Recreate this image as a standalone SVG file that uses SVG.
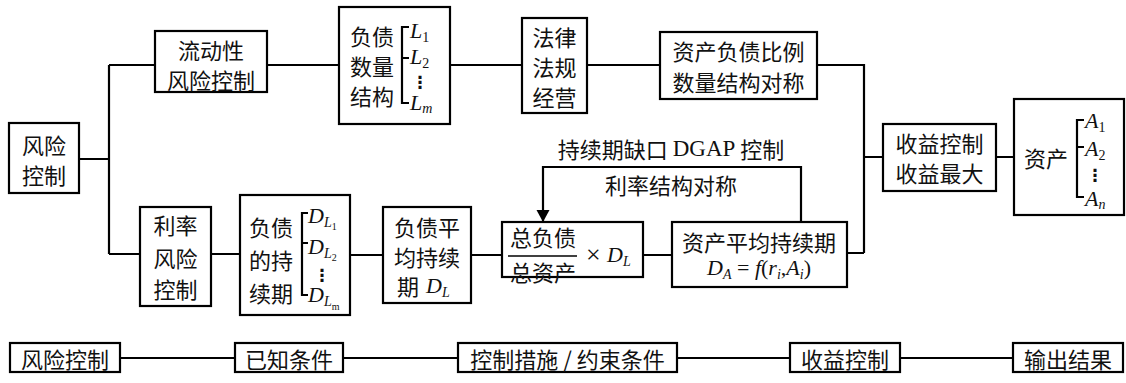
<svg xmlns="http://www.w3.org/2000/svg" width="1126" height="383" viewBox="0 0 1126 383">
<style>
.box{fill:#fff;stroke:#000;stroke-width:2.2}
.ln{fill:none;stroke:#000;stroke-width:2.2}
.cn{font-family:"Noto Sans CJK SC","Noto Sans CJK JP",sans-serif;font-size:22px;fill:#111;text-anchor:middle;dominant-baseline:central}
.it{font-family:"Liberation Serif",serif;font-style:italic;font-size:22px;fill:#111}
.sub{font-size:14px}
.sn{font-size:14px;font-style:normal}
.ss{font-size:10px;font-style:normal}
.dots{font-family:"DejaVu Sans",sans-serif;font-size:17px;font-weight:bold;fill:#111;text-anchor:middle}
.sr{font-family:"Liberation Serif",serif;font-size:22px;fill:#111}
</style>
<defs>
<marker id="ah" markerUnits="userSpaceOnUse" markerWidth="14" markerHeight="14" refX="12" refY="6.5" orient="auto">
<path d="M0,0 L12,6.5 L0,13 z" fill="#000"/>
</marker>
</defs>
<rect width="1126" height="383" fill="#fff"/>

<g id="connectors">
<path class="ln" d="M79,159 H109 M109,65 V254 M109,65 H155 M109,254 H140"/>
<path class="ln" d="M267,65 H339 M450,65 H522 M587,65 H660"/>
<path class="ln" d="M817,65 H864 V253 M847,253 H864 M864,157 H883 M996,157 H1014"/>
<path class="ln" d="M211,254 H240 M350,255 H383 M471,255 H502 M643,255 H672"/>
<path class="ln" d="M801,222 V167 H543 V222" marker-end="url(#ah)"/>
<path class="ln" d="M120,358 H235 M343,358 H458 M677,358 H790 M900,358 H1013"/>
</g>

<g id="feedback-labels">
<text class="cn" x="671" y="148">持续期缺口 <tspan class="sr" style="font-size:23px">DGAP</tspan> 控制</text>
<text class="cn" x="671" y="184">利率结构对称</text>
</g>

<g id="risk-control">
<rect class="box" x="9" y="123" width="70" height="70"/>
<text class="cn" x="44" y="144">风险</text>
<text class="cn" x="44" y="174">控制</text>
</g>

<g id="liquidity-risk">
<rect class="box" x="155" y="31" width="112" height="61"/>
<text class="cn" x="211" y="49">流动性</text>
<text class="cn" x="211" y="79">风险控制</text>
</g>

<g id="liability-structure">
<rect class="box" x="339" y="7" width="111" height="117"/>
<text class="cn" x="372" y="35">负债</text>
<text class="cn" x="372" y="65">数量</text>
<text class="cn" x="372" y="95">结构</text>
<path class="ln" d="M409,27 H402 V103 H409 M402,58 H409"/>
<text class="it" x="410" y="38">L<tspan class="sn" dy="4">1</tspan></text>
<text class="it" x="410" y="64">L<tspan class="sn" dy="4">2</tspan></text>
<text class="dots" x="420" y="88">⋮</text>
<text class="it" x="410" y="110">L<tspan class="sub" dy="3">m</tspan></text>
</g>

<g id="law">
<rect class="box" x="522" y="18" width="65" height="95"/>
<text class="cn" x="554.5" y="36">法律</text>
<text class="cn" x="554.5" y="66">法规</text>
<text class="cn" x="554.5" y="96">经营</text>
</g>

<g id="ratio-symmetry">
<rect class="box" x="660" y="32" width="157" height="67"/>
<text class="cn" x="738.5" y="50">资产负债比例</text>
<text class="cn" x="738.5" y="81">数量结构对称</text>
</g>

<g id="income-control">
<rect class="box" x="883" y="124" width="113" height="67"/>
<text class="cn" x="939.5" y="142">收益控制</text>
<text class="cn" x="939.5" y="172">收益最大</text>
</g>

<g id="assets">
<rect class="box" x="1014" y="99" width="110" height="116"/>
<text class="cn" x="1046" y="157">资产</text>
<path class="ln" d="M1084,120 H1077 V197 H1084 M1077,147 H1084"/>
<text class="it" x="1085" y="128">A<tspan class="sn" dy="4">1</tspan></text>
<text class="it" x="1085" y="156">A<tspan class="sn" dy="4">2</tspan></text>
<text class="dots" x="1095" y="181">⋮</text>
<text class="it" x="1085" y="206">A<tspan class="sub" dy="3">n</tspan></text>
</g>

<g id="rate-risk">
<rect class="box" x="140" y="207" width="71" height="99"/>
<text class="cn" x="175.5" y="224">利率</text>
<text class="cn" x="175.5" y="257">风险</text>
<text class="cn" x="175.5" y="288">控制</text>
</g>

<g id="liability-duration">
<rect class="box" x="240" y="195" width="110" height="120"/>
<text class="cn" x="271" y="226">负债</text>
<text class="cn" x="271" y="259">的持</text>
<text class="cn" x="271" y="292">续期</text>
<path class="ln" d="M308,213 H302 V295 H308 M302,243 H308"/>
<text class="it" x="308" y="223">D<tspan class="sub" dy="4">L</tspan><tspan class="ss" dy="3">1</tspan></text>
<text class="it" x="308" y="254">D<tspan class="sub" dy="4">L</tspan><tspan class="ss" dy="3">2</tspan></text>
<text class="dots" x="322" y="281">⋮</text>
<text class="it" x="308" y="302">D<tspan class="sub" dy="4">L</tspan><tspan class="ss" dy="4">m</tspan></text>
</g>

<g id="avg-liability-duration">
<rect class="box" x="383" y="207" width="88" height="96"/>
<text class="cn" x="427" y="226">负债平</text>
<text class="cn" x="427" y="255.5">均持续</text>
<text class="cn" x="408" y="285">期</text>
<text class="it" x="426" y="293">D<tspan class="sub" dy="4">L</tspan></text>
</g>

<g id="ratio-duration">
<rect class="box" x="502" y="222" width="141" height="55"/>
<text class="cn" x="543" y="236">总负债</text>
<line x1="508" y1="256" x2="577" y2="256" stroke="#000" stroke-width="1.5"/>
<text class="cn" x="543" y="271">总资产</text>
<text class="sr" x="586" y="263" style="font-size:26px">×</text>
<text class="it" x="607" y="262">D<tspan class="sub" dy="4">L</tspan></text>
</g>

<g id="asset-duration">
<rect class="box" x="672" y="222" width="175" height="65"/>
<text class="cn" x="759" y="241">资产平均持续期</text>
<text class="it" x="707" y="275">D<tspan class="sub" dy="4">A</tspan><tspan dy="-4" style="font-style:normal"> = </tspan>f<tspan style="font-style:normal">(</tspan>r<tspan class="sub" dy="4">i</tspan><tspan dy="-4" style="font-style:normal">,</tspan>A<tspan class="sub" dy="4">i</tspan><tspan dy="-4" style="font-style:normal">)</tspan></text>
</g>

<g id="legend-risk">
<rect class="box" x="10" y="343" width="110" height="29"/>
<text class="cn" x="65" y="357.5">风险控制</text>
</g>
<g id="legend-known">
<rect class="box" x="235" y="343" width="108" height="29"/>
<text class="cn" x="289" y="357.5">已知条件</text>
</g>
<g id="legend-measures">
<rect class="box" x="458" y="343" width="219" height="29"/>
<text class="cn" x="567.5" y="357.5">控制措施 / 约束条件</text>
</g>
<g id="legend-income">
<rect class="box" x="790" y="343" width="110" height="29"/>
<text class="cn" x="845" y="357.5">收益控制</text>
</g>
<g id="legend-output">
<rect class="box" x="1013" y="343" width="110" height="29"/>
<text class="cn" x="1068" y="357.5">输出结果</text>
</g>
</svg>
